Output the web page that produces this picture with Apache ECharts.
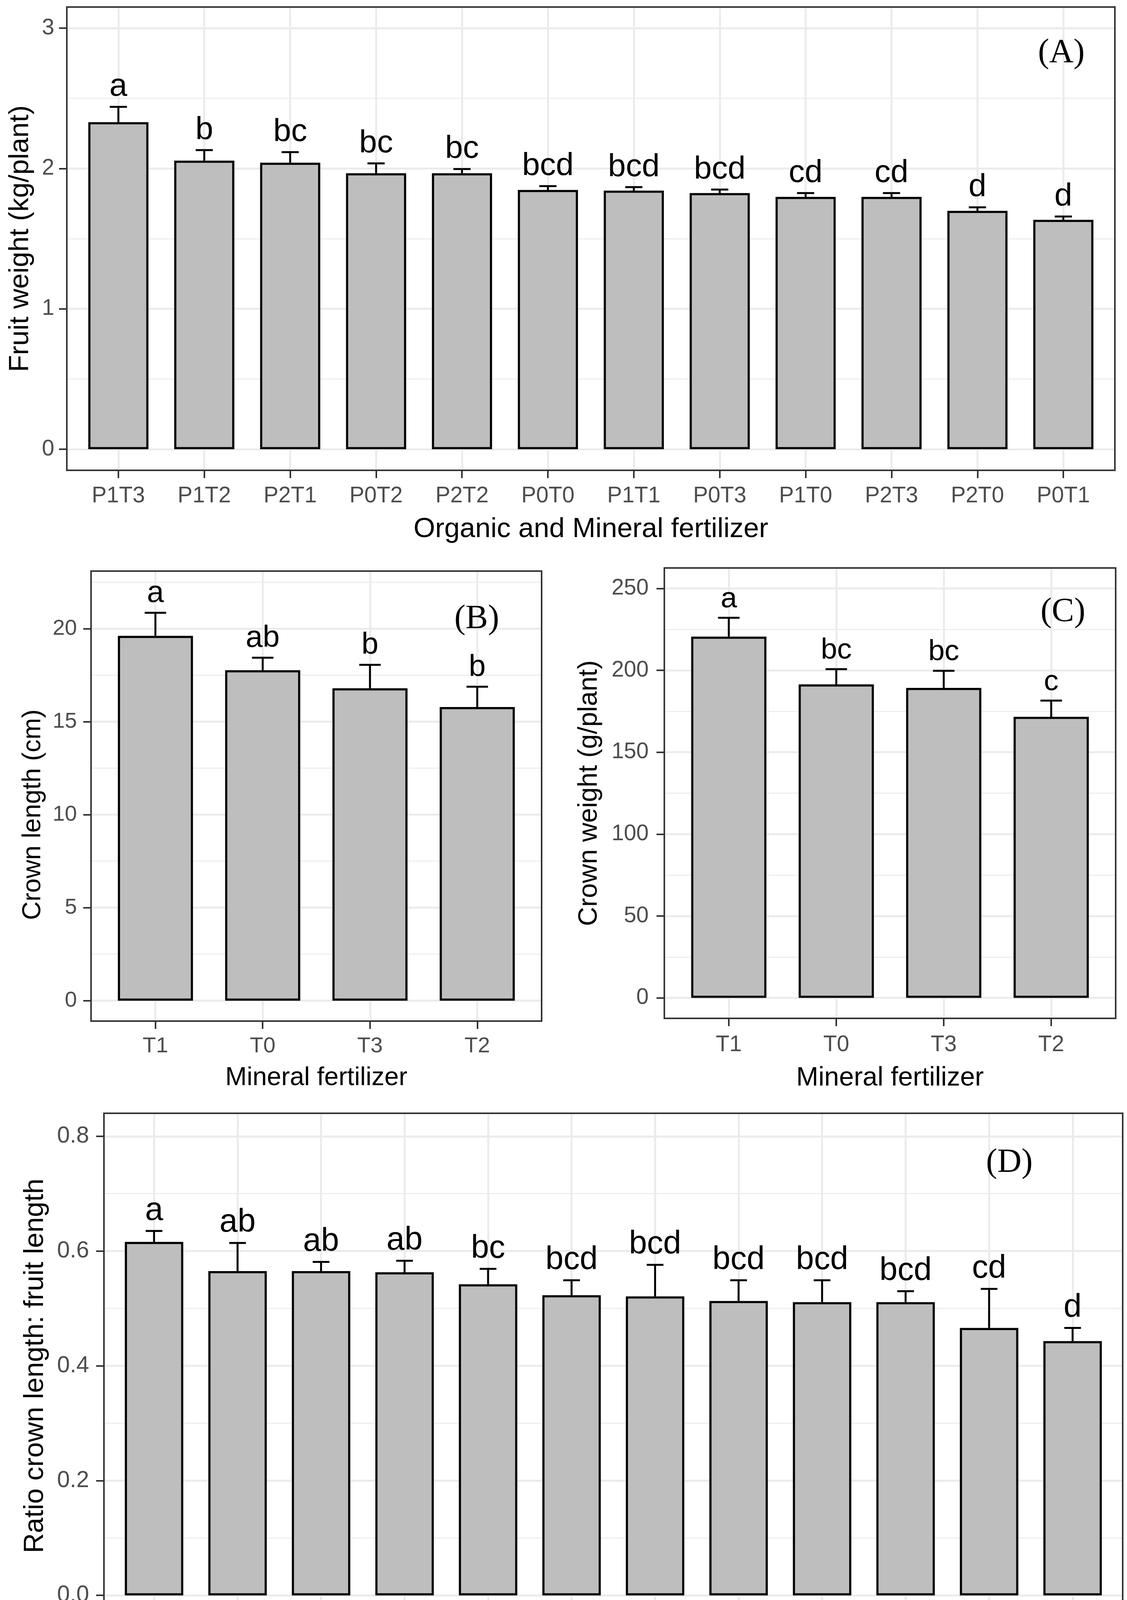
<!DOCTYPE html>
<html><head><meta charset="utf-8">
<script src="https://cdn.jsdelivr.net/npm/echarts@6/dist/echarts.min.js"></script>
<style>html,body{margin:0;padding:0;background:#fff}#c{width:2884px;height:4360px}</style>
</head><body><div id="c"></div>
<script>
// ---------- DATA ----------
// Panel A: Fruit weight
const catsA = ['P1T3','P1T2','P2T1','P0T2','P2T2','P0T0','P1T1','P0T3','P1T0','P2T3','P2T0','P0T1'];
const valA  = [2.33, 2.056, 2.041, 1.966, 1.966, 1.847, 1.842, 1.825, 1.798, 1.798, 1.698, 1.634];
const seA   = [0.109, 0.075, 0.075, 0.070, 0.030, 0.027, 0.025, 0.025, 0.027, 0.027, 0.025, 0.024];
const letA  = ['a','b','bc','bc','bc','bcd','bcd','bcd','cd','cd','d','d'];
const yTicksA = [0, 1, 2, 3];

// Panel B: Crown length
const catsB = ['T1','T0','T3','T2'];
const valB  = [19.62, 17.77, 16.80, 15.79];
const seB   = [1.24, 0.67, 1.26, 1.09];
const letB  = ['a','ab','b','b'];
const yTicksB = [0, 5, 10, 15, 20];
const extraMinorB = [22.5];

// Panel C: Crown weight
const catsC = ['T1','T0','T3','T2'];
const valC  = [220.6, 191.4, 189.3, 171.6];
const seC   = [11.5, 9.3, 10.4, 9.9];
const letC  = ['a','bc','bc','c'];
const yTicksC = [0, 50, 100, 150, 200, 250];

// Panel D: Ratio crown length : fruit length
const catsD = ['P0T1','P1T1','P2T0','P2T3','P1T0','P0T0','P0T3','P0T2','P2T1','P1T2','P2T2','P1T3'];
const valD  = [0.616, 0.565, 0.565, 0.563, 0.542, 0.523, 0.521, 0.513, 0.511, 0.511, 0.466, 0.443];
const seD   = [0.019, 0.049, 0.016, 0.020, 0.027, 0.026, 0.055, 0.036, 0.038, 0.019, 0.068, 0.023];
const letD  = ['a','ab','ab','ab','bc','bcd','bcd','bcd','bcd','bcd','cd','d'];
const yTicksD = [0, 0.2, 0.4, 0.6, 0.8];

// ---------- LAYOUT / STYLE ----------
const SANS = '"Liberation Sans", Arial, sans-serif';
const SERIF = '"Liberation Serif", "Times New Roman", serif';
const panels = [
  {cats:catsA, val:valA, se:seA, let:letA, ticks:yTicksA, extra:[], lo:-0.15, hi:3.15, dec:0,
   xName:'Organic and Mineral fertilizer', yName:'Fruit weight (kg/plant)', tag:'(A)',
   rect:[171,18,2853,1204], tickFont:57, titleFont:71, letterFont:82,
   xLabelMargin:38, yLabelMargin:32, xNameGap:116, yNameGap:83, tagPos:[2716,136]},
  {cats:catsB, val:valB, se:seB, let:letB, ticks:yTicksB, extra:extraMinorB, lo:-1.1, hi:23.1, dec:0,
   xName:'Mineral fertilizer', yName:'Crown length (cm)', tag:'(B)',
   rect:[233,1462,1386,2614], tickFont:56, titleFont:66, letterFont:78,
   xLabelMargin:37, yLabelMargin:36, xNameGap:113, yNameGap:115, tagPos:[1220,1585]},
  {cats:catsC, val:valC, se:seC, let:letC, ticks:yTicksC, extra:[], lo:-12.5, hi:262.5, dec:0,
   xName:'Mineral fertilizer', yName:'Crown weight (g/plant)', tag:'(C)',
   rect:[1700,1454,2855,2607], tickFont:57, titleFont:68, letterFont:75,
   xLabelMargin:40, yLabelMargin:40, xNameGap:119, yNameGap:158, tagPos:[2720,1567]},
  {cats:catsD, val:valD, se:seD, let:letD, ticks:yTicksD, extra:[], lo:-0.04, hi:0.84, dec:1,
   xName:'Organic and Mineral fertilizer', yName:'Ratio crown length: fruit length', tag:'(D)',
   rect:[266,2850,2873,4143], tickFont:59, titleFont:71, letterFont:83,
   xLabelMargin:37, yLabelMargin:38, xNameGap:119, yNameGap:140, tagPos:[2583,2977]}
];

const GRID_COLOR = '#ebebeb';
const grids = [], xAxes = [], yAxes = [], series = [], graphics = [];

function errRender(letters, fontPx) {
  return function (params, api) {
    const i = api.value(0), v = api.value(1), u = api.value(2);
    const p0 = api.coord([i, v]), p1 = api.coord([i, u]);
    const bw = api.size([1, 0])[0];
    const hw = bw * 0.1;
    return {type:'group', children:[
      {type:'line', shape:{x1:p0[0], y1:p0[1], x2:p1[0], y2:p1[1]}, style:{stroke:'#000', lineWidth:5}},
      {type:'line', shape:{x1:p1[0]-hw, y1:p1[1], x2:p1[0]+hw, y2:p1[1]}, style:{stroke:'#000', lineWidth:5}},
      {type:'text', x:p1[0], y:p1[1]-10, style:{text:letters[params.dataIndex], fill:'#000',
        font: fontPx + 'px ' + SANS, textAlign:'center', textVerticalAlign:'bottom', align:'center', verticalAlign:'bottom'}}
    ]};
  };
}
function hLineRender(params, api) {
  const cs = params.coordSys;
  const y = api.coord([0, api.value(1)])[1];
  return {type:'line', shape:{x1:cs.x, y1:y, x2:cs.x+cs.width, y2:y}, style:{stroke:GRID_COLOR, lineWidth:2.5}};
}

panels.forEach((p, k) => {
  const [L, T, R, B] = p.rect;
  const W = R - L, H = B - T;
  const n = p.cats.length;
  const unit = W / (n - 1 + 1.2);
  const yMin = p.ticks[0], yMax = p.ticks[p.ticks.length - 1], yInt = p.ticks[1] - p.ticks[0];
  const pxPer = H / (p.hi - p.lo);
  const yPix = v => B - (v - p.lo) * pxPer;
  const base = k * 3;
  const common = {containLabel:false, outerBoundsMode:'none'};

  // grid P: full panel with border
  grids.push(Object.assign({left:L, top:T, width:W, height:H, show:true, borderColor:'#333', borderWidth:4,
    backgroundColor:'rgba(0,0,0,0)', z:10}, common));
  // grid Y: spans tick range for y axis labels/ticks/gridlines
  grids.push(Object.assign({left:L, top:yPix(yMax), width:W, height:yPix(yMin) - yPix(yMax)}, common));
  // grid X: inset so categories sit at ggplot positions
  grids.push(Object.assign({left:L + 0.6*unit, top:T, width:W - 1.2*unit, height:H}, common));

  xAxes.push({gridIndex:base, type:'value', min:0, max:1, show:false});
  yAxes.push({gridIndex:base, type:'value', min:p.lo, max:p.hi, show:false});

  xAxes.push({gridIndex:base+1, type:'value', min:0, max:1, show:false});
  yAxes.push({gridIndex:base+1, type:'value', min:yMin, max:yMax, interval:yInt, position:'left',
    axisLine:{show:false, onZero:false},
    axisTick:{show:true, length:20, inside:false, lineStyle:{color:'#333', width:4}},
    axisLabel:{show:true, margin:p.yLabelMargin, color:'#4d4d4d', fontSize:p.tickFont, fontFamily:SANS,
      formatter: v => Number(v).toFixed(p.dec)},
    splitLine:{show:true, lineStyle:{color:GRID_COLOR, width:5}},
    minorTick:{show:false, splitNumber:2},
    minorSplitLine:{show:true, lineStyle:{color:GRID_COLOR, width:2.5}},
    name:p.yName, nameLocation:'middle', nameGap:p.yNameGap, nameMoveOverlap:false,
    nameTextStyle:{color:'#000', fontSize:p.titleFont, fontFamily:SANS}
  });

  xAxes.push({gridIndex:base+2, type:'category', data:p.cats, boundaryGap:false, position:'bottom',
    axisLine:{show:false, onZero:false},
    axisTick:{show:true, length:20, interval:0, inside:false, lineStyle:{color:'#333', width:4}},
    axisLabel:{show:true, interval:0, margin:p.xLabelMargin, color:'#4d4d4d', fontSize:p.tickFont, fontFamily:SANS},
    splitLine:{show:true, interval:0, lineStyle:{color:GRID_COLOR, width:5}},
    name:p.xName, nameLocation:'middle', nameGap:p.xNameGap, nameMoveOverlap:false,
    nameTextStyle:{color:'#000', fontSize:p.titleFont, fontFamily:SANS}
  });
  yAxes.push({gridIndex:base+2, type:'value', min:p.lo, max:p.hi, show:false});

  if (p.extra.length) {
    series.push({type:'custom', xAxisIndex:base, yAxisIndex:base, z:1, silent:true,
      data:p.extra.map(v => [0.5, v]), encode:{x:0, y:1}, renderItem:hLineRender});
  }
  series.push({type:'bar', xAxisIndex:base+2, yAxisIndex:base+2, data:p.val, barWidth:'70%', clip:false,
    silent:true, z:3, itemStyle:{color:'#bebebe', borderColor:'#000', borderWidth:5.5}});
  series.push({type:'custom', xAxisIndex:base+2, yAxisIndex:base+2, z:4, silent:true, clip:false,
    data:p.val.map((v, i) => [i, v, v + p.se[i]]), encode:{x:0, y:[1, 2]},
    renderItem:errRender(p.let, p.letterFont)});

  graphics.push({type:'text', x:p.tagPos[0], y:p.tagPos[1], z:20,
    style:{text:p.tag, fill:'#000', font:'86px ' + SERIF, textAlign:'center', textVerticalAlign:'middle',
      align:'center', verticalAlign:'middle'}});
});

const chart = echarts.init(document.getElementById('c'), null, {renderer:'canvas'});
chart.setOption({
  animation:false,
  backgroundColor:'#ffffff',
  grid:grids, xAxis:xAxes, yAxis:yAxes, series:series,
  graphic:{elements:graphics}
});
</script>
</body></html>
